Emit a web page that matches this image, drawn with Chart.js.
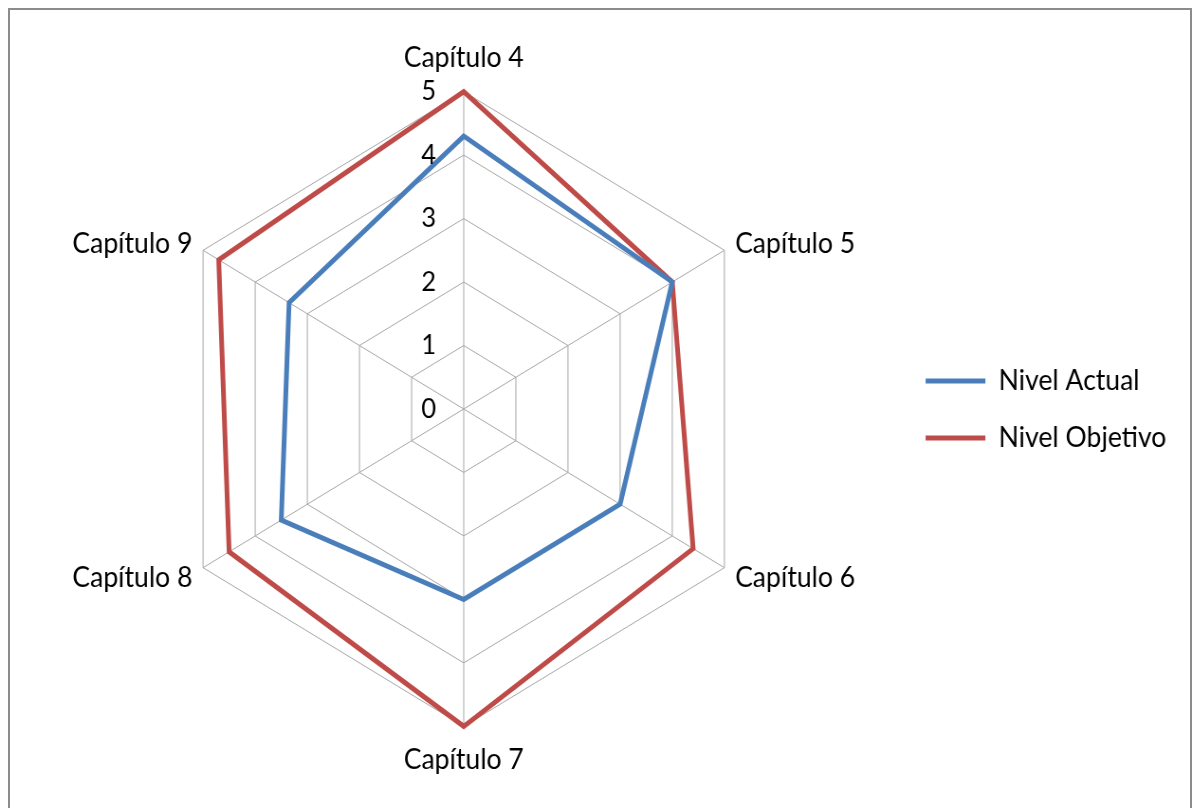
<!DOCTYPE html>
<html>
<head>
<meta charset="utf-8">
<script src="https://cdn.jsdelivr.net/npm/chart.js"></script>
<style>
  html, body { margin: 0; padding: 0; background: #fff; overflow: hidden; }
  .frame {
    position: absolute; left: 8px; top: 8px;
    width: 1184px; height: 900px;
    box-sizing: border-box;
    border: 2px solid #8c8c8c;
  }
  #radar { position: absolute; left: 0; top: 0; }
</style>
</head>
<body>
<div class="frame"></div>
<!-- drawn wider than shown, the picture is squeezed a bit on x like the original -->
<canvas id="radar" width="1257" height="808" style="width:1192px;height:808px"></canvas>
<script>
const chapters = ['Capítulo 4', 'Capítulo 5', 'Capítulo 6', 'Capítulo 7', 'Capítulo 8', 'Capítulo 9'];
const nivelActual = [4.3, 4, 3, 3, 3.5, 3.35];
const nivelObjetivo = [5, 4, 4.4, 5, 4.5, 4.7];
const tickLabels = ['0', '1', '2', '3', '4', '5'];

const FONT = 'Lato';

// top and bottom labels (index 0 and 3) stay as they are,
// the side ones are pulled down / up to the level of their corner
function isSide(i) {
    return i % 3 !== 0;
}

function labelLineHeight(i) {
    if (!isSide(i)) return 1.2;
    return (i === 2 || i === 4) ? 0.25 : 0.01;
}

// tick numbers sit left of the vertical axis, not on it
const tickLabelPlugin = {
    id: 'tickLabels',
    afterDraw(chart) {
        const r = chart.scales.r;
        const ctx = chart.ctx;
        ctx.save();
        ctx.font = '27px ' + FONT;
        ctx.fillStyle = '#000';
        ctx.textAlign = 'center';
        ctx.textBaseline = 'middle';
        tickLabels.forEach((t, i) => {
            const d = r.getDistanceFromCenterForValue(Number(t));
            ctx.fillText(t, r.xCenter - 37, r.yCenter - d);
        });
        ctx.restore();
    }
};

new Chart(document.getElementById('radar').getContext('2d'), {
    type: 'radar',
    data: {
        labels: chapters,
        datasets: [
            {
                label: 'Nivel Actual',
                data: nivelActual,
                borderColor: '#4A7EBB',
                backgroundColor: '#4A7EBB',
                borderWidth: 5,
                borderCapStyle: 'round',
                fill: false,
                pointRadius: 0
            },
            {
                label: 'Nivel Objetivo',
                data: nivelObjetivo,
                borderColor: '#BE4B48',
                backgroundColor: '#BE4B48',
                borderWidth: 5,
                borderCapStyle: 'round',
                fill: false,
                pointRadius: 0
            }
        ]
    },
    options: {
        responsive: false,
        animation: false,
        layout: {
            padding: { left: 31, right: 17, top: 41, bottom: 30 }
        },
        scales: {
            r: {
                min: 0,
                max: 5,
                ticks: { stepSize: 1, display: false },
                grid: { color: '#a6a6a6', lineWidth: 1 },
                angleLines: { color: '#a6a6a6', lineWidth: 1 },
                pointLabels: {
                    color: '#000',
                    padding: (ctx) => isSide(ctx.index) ? 13 : 17,
                    font: (ctx) => ({
                        family: FONT,
                        size: 28,
                        lineHeight: labelLineHeight(ctx.index)
                    })
                }
            }
        },
        plugins: {
            legend: {
                position: 'right',
                labels: {
                    usePointStyle: true,
                    pointStyle: 'line',
                    pointStyleWidth: 63,
                    padding: 29,
                    color: '#000',
                    font: { family: FONT, size: 28 }
                }
            },
            tooltip: { enabled: false }
        }
    },
    plugins: [tickLabelPlugin]
});
</script>
</body>
</html>
